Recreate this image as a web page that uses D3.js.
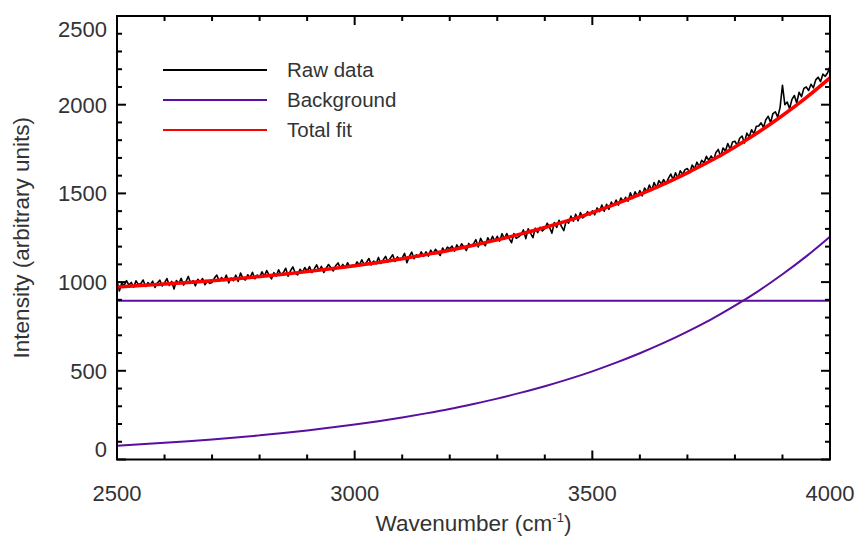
<!DOCTYPE html>
<html>
<head>
<meta charset="utf-8">
<script src="https://cdn.jsdelivr.net/npm/d3@7/dist/d3.min.js"></script>
<style>
  body { margin: 0; background: #ffffff; }
  svg text { font-family: "Liberation Sans", Helvetica, Arial, sans-serif; fill: #333333; }
</style>
</head>
<body>
<svg id="chart" width="860" height="540"></svg>
<script>
// Axis ticks and legend entries
const xTickValues = [2500, 3000, 3500, 4000];
const yTickValues = [0, 500, 1000, 1500, 2000, 2500];
const legendLabels = ["Raw data", "Background", "Total fit"];

// Model components, sampled every 50 cm^-1 from 2500 to 4000
const fitStart = 2500;
const fitStep = 50;
const backgroundLevel = 895;
const backgroundCurve = [78, 86, 94, 103, 113, 124, 136, 149, 164, 180,
  197, 216, 237, 260, 285, 313, 343, 377, 413, 453,
  497, 546, 599, 657, 721, 790, 867, 951, 1044, 1145, 1256];
const totalFit = [973, 981, 989, 998, 1008, 1019, 1031, 1044, 1059, 1075,
  1092, 1111, 1132, 1155, 1180, 1208, 1238, 1272, 1308, 1348,
  1392, 1441, 1494, 1552, 1616, 1685, 1762, 1846, 1939, 2040, 2151];

// Measured spectrum, sampled every 5 cm^-1 from 2500 to 4000
const rawStart = 2500;
const rawStep = 5;
const rawData = [
  1007, 950, 995, 981, 1008, 983, 998, 971, 1007, 986,
  991, 1012, 975, 997, 984, 1005, 970, 995, 1011, 978,
  995, 1020, 981, 1004, 961, 1009, 992, 1021, 984, 1003,
  1032, 993, 1008, 979, 1016, 999, 1020, 985, 1006, 993,
  998, 1023, 1040, 1005, 1026, 1008, 1039, 996, 1023, 1008,
  1039, 1004, 1051, 1021, 1012, 1041, 1026, 1055, 1019, 1040,
  1027, 1058, 1034, 1065, 1040, 1018, 1053, 1034, 1069, 1041,
  1054, 1078, 1033, 1064, 1086, 1051, 1041, 1072, 1054, 1082,
  1061, 1087, 1054, 1074, 1097, 1065, 1089, 1054, 1078, 1099,
  1081, 1063, 1092, 1108, 1078, 1100, 1081, 1109, 1085, 1096,
  1088, 1114, 1096, 1126, 1098, 1112, 1133, 1097, 1119, 1103,
  1139, 1105, 1125, 1145, 1113, 1135, 1154, 1116, 1142, 1124,
  1136, 1162, 1109, 1145, 1169, 1132, 1154, 1142, 1170, 1145,
  1171, 1146, 1180, 1159, 1185, 1168, 1150, 1192, 1171, 1197,
  1188, 1203, 1174, 1210, 1189, 1216, 1197, 1178, 1218, 1201,
  1216, 1239, 1198, 1247, 1220, 1205, 1250, 1227, 1258, 1231,
  1258, 1231, 1273, 1242, 1274, 1245, 1222, 1274, 1247, 1255,
  1268, 1294, 1245, 1301, 1276, 1250, 1304, 1279, 1309, 1288,
  1302, 1332, 1308, 1276, 1336, 1308, 1348, 1314, 1290, 1346,
  1332, 1372, 1343, 1383, 1346, 1392, 1362, 1373, 1397, 1378,
  1402, 1379, 1418, 1397, 1434, 1399, 1439, 1410, 1451, 1432,
  1463, 1434, 1474, 1455, 1478, 1456, 1503, 1472, 1509, 1485,
  1516, 1486, 1530, 1509, 1547, 1517, 1561, 1531, 1572, 1552,
  1578, 1554, 1585, 1609, 1578, 1616, 1586, 1627, 1607, 1634,
  1640, 1617, 1660, 1639, 1676, 1650, 1687, 1672, 1709, 1686,
  1711, 1687, 1730, 1748, 1708, 1756, 1739, 1781, 1749, 1790,
  1794, 1770, 1811, 1823, 1784, 1840, 1818, 1859, 1835, 1878,
  1880, 1898, 1872, 1915, 1935, 1900, 1950, 1960, 1930, 1985,
  2110, 2000, 2015, 1978, 2030, 2052, 2010, 2070, 2045, 2092,
  2100, 2080, 2115, 2095, 2140, 2155, 2130, 2172, 2160, 2180,
  2215
];

const colors = { raw: "#000000", background: "#5a0fa0", fit: "#ff0000" };

const svg = d3.select("#chart");
const plot = { left: 117, right: 830, top: 16, bottom: 459.5 };

const x = d3.scaleLinear().domain([2500, 4000]).range([plot.left, plot.right]);
const y = d3.scaleLinear().domain([0, 2500]).range([plot.bottom, plot.top]);

const fitPoints = arr => arr.map((v, i) => ({ w: fitStart + i * fitStep, v }));
const rawPoints = rawData.map((v, i) => ({ w: rawStart + i * rawStep, v }));

svg.append("clipPath").attr("id", "plotClip")
  .append("rect")
  .attr("x", plot.left).attr("y", plot.top)
  .attr("width", plot.right - plot.left).attr("height", plot.bottom - plot.top);

const smooth = d3.line().x(d => x(d.w)).y(d => y(d.v)).curve(d3.curveMonotoneX);
const jagged = d3.line().x(d => x(d.w)).y(d => y(d.v));

const series = svg.append("g").attr("clip-path", "url(#plotClip)");

// Flat background level
series.append("path")
  .datum([{ w: 2500, v: backgroundLevel }, { w: 4000, v: backgroundLevel }])
  .attr("d", jagged)
  .attr("fill", "none").attr("stroke", colors.background).attr("stroke-width", 2);

// Rising background component
series.append("path")
  .datum(fitPoints(backgroundCurve))
  .attr("d", smooth)
  .attr("fill", "none").attr("stroke", colors.background).attr("stroke-width", 2);

// Measured spectrum
series.append("path")
  .datum(rawPoints)
  .attr("d", jagged)
  .attr("fill", "none").attr("stroke", colors.raw).attr("stroke-width", 1.6)
  .attr("stroke-linejoin", "round");

// Total fit
series.append("path")
  .datum(fitPoints(totalFit))
  .attr("d", smooth)
  .attr("fill", "none").attr("stroke", colors.fit).attr("stroke-width", 3.5);

// Frame and inward ticks on all four sides
const frame = svg.append("g").attr("stroke", "#000").attr("fill", "none");
frame.append("rect")
  .attr("x", plot.left).attr("y", plot.top)
  .attr("width", plot.right - plot.left).attr("height", plot.bottom - plot.top)
  .attr("stroke-width", 2);

const majorLen = 9, minorLen = 5;
const xMinor = d3.range(2500, 4001, 100);
const yMinor = d3.range(0, 2501, 100);
const isXMajor = v => xTickValues.includes(v);
const isYMajor = v => yTickValues.includes(v);

xMinor.forEach(v => {
  const len = isXMajor(v) ? majorLen : minorLen;
  frame.append("line").attr("x1", x(v)).attr("x2", x(v))
    .attr("y1", plot.bottom).attr("y2", plot.bottom - len).attr("stroke-width", 2);
  frame.append("line").attr("x1", x(v)).attr("x2", x(v))
    .attr("y1", plot.top).attr("y2", plot.top + len).attr("stroke-width", 2);
});
yMinor.forEach(v => {
  const len = isYMajor(v) ? majorLen : minorLen;
  frame.append("line").attr("y1", y(v)).attr("y2", y(v))
    .attr("x1", plot.left).attr("x2", plot.left + len).attr("stroke-width", 2);
  frame.append("line").attr("y1", y(v)).attr("y2", y(v))
    .attr("x1", plot.right).attr("x2", plot.right - len).attr("stroke-width", 2);
});

// Tick labels
svg.append("g").selectAll("text").data(xTickValues).join("text")
  .attr("x", d => x(d)).attr("y", 501)
  .attr("text-anchor", "middle").attr("font-size", 22)
  .text(d => d);

svg.append("g").selectAll("text").data(yTickValues).join("text")
  .attr("x", 107)
  .attr("y", d => Math.min(Math.max(y(d), plot.top + 13), plot.bottom - 10))
  .attr("dy", "0.36em")
  .attr("text-anchor", "end").attr("font-size", 22)
  .text(d => d);

// Axis titles
const xTitle = svg.append("text")
  .attr("x", (plot.left + plot.right) / 2).attr("y", 531)
  .attr("text-anchor", "middle").attr("font-size", 22.5);
xTitle.append("tspan").text("Wavenumber (cm");
xTitle.append("tspan").attr("font-size", 13).attr("dy", -9).text("-1");
xTitle.append("tspan").attr("dy", 9).text(")");

svg.append("text")
  .attr("transform", `translate(29,${(plot.top + plot.bottom) / 2}) rotate(-90)`)
  .attr("text-anchor", "middle").attr("font-size", 22.5)
  .text("Intensity (arbitrary units)");

// Legend
const legendColors = [colors.raw, colors.background, colors.fit];
const legend = svg.append("g");
legendLabels.forEach((label, i) => {
  const ly = 70 + i * 30;
  legend.append("line")
    .attr("x1", 163).attr("x2", 267).attr("y1", ly).attr("y2", ly)
    .attr("stroke", legendColors[i]).attr("stroke-width", 2);
  legend.append("text")
    .attr("x", 287).attr("y", ly).attr("dy", "0.36em")
    .attr("font-size", 20.5)
    .text(label);
});
</script>
</body>
</html>
